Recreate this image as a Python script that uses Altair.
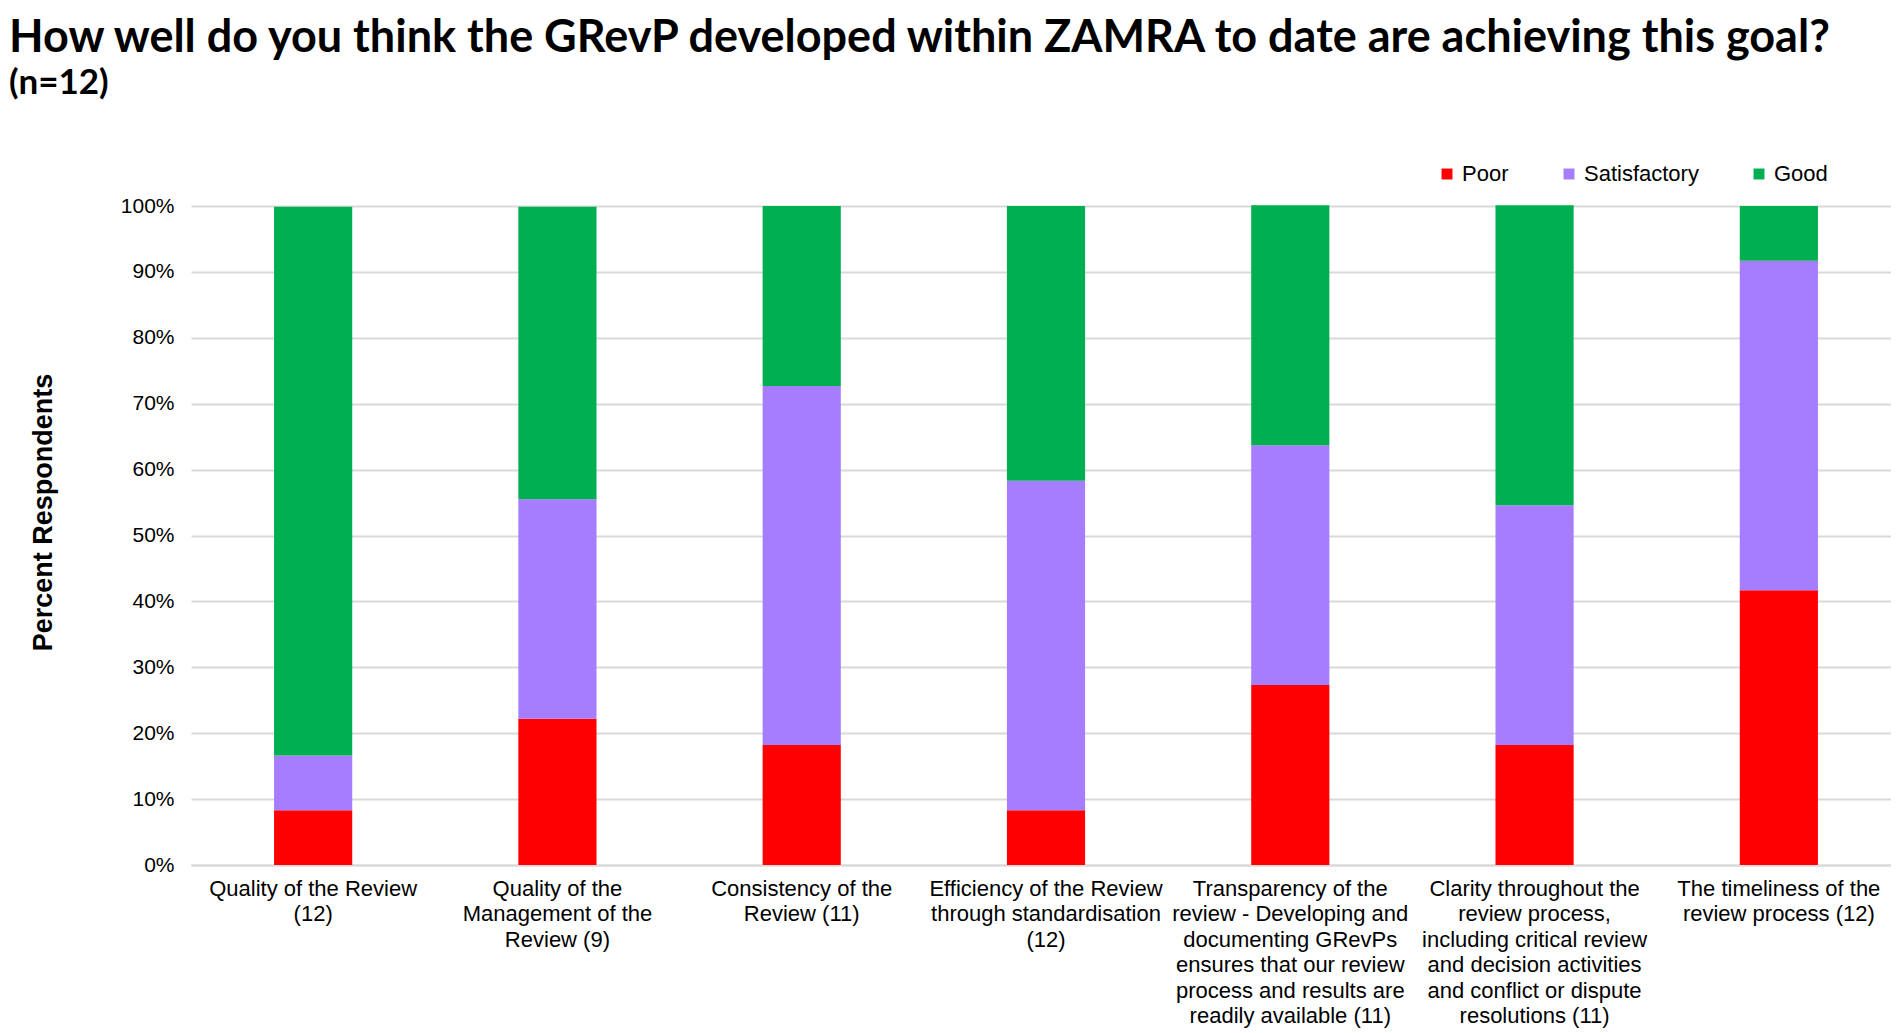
import altair as alt
import pandas as pd

# eixos e séries (percentual de respondentes)
categorias = [
    "Quality of the Review (12)",
    "Quality of the Management of the Review (9)",
    "Consistency of the Review (11)",
    "Efficiency of the Review through standardisation (12)",
    "Transparency of the review (11)",
    "Clarity throughout the review process (11)",
    "The timeliness of the review process (12)",
]
rotulos = [
    ["Quality of the Review", "(12)"],
    ["Quality of the", "Management of the", "Review (9)"],
    ["Consistency of the", "Review (11)"],
    ["Efficiency of the Review", "through standardisation", "(12)"],
    ["Transparency of the", "review - Developing and", "documenting GRevPs",
     "ensures that our review", "process and results are", "readily available  (11)"],
    ["Clarity throughout the", "review process,", "including critical review",
     "and decision activities", "and conflict or dispute", "resolutions (11)"],
    ["The timeliness of the", "review process (12)"],
]
respostas = ["Poor", "Satisfactory", "Good"]
poor = [8.3, 22.2, 18.2, 8.3, 27.3, 18.2, 41.7]
satisfactory = [8.3, 33.3, 54.5, 50.0, 36.4, 36.4, 50.0]
good = [83.3, 44.4, 27.3, 41.7, 36.4, 45.5, 8.3]
cores = ["#ff0000", "#a67dff", "#00b050"]

linhas = []
for i, cat in enumerate(categorias):
    for k, (resp, serie) in enumerate(zip(respostas, [poor, satisfactory, good])):
        linhas.append({"Categoria": cat, "Resposta": resp, "Valor": serie[i], "ordem": k})
df = pd.DataFrame(linhas)

# mapa categoria -> rótulo em várias linhas
mapa = "{" + ",".join(
    '"%s": [%s]' % (c, ",".join('"%s"' % l for l in r)) for c, r in zip(categorias, rotulos)
) + "}"

chart = (
    alt.Chart(df)
    .mark_bar()
    .encode(
        x=alt.X(
            "Categoria:N",
            sort=categorias,
            title=None,
            scale=alt.Scale(range=[0, 1710], paddingInner=0.68, paddingOuter=0.34),
            axis=alt.Axis(
                labelAngle=0,
                labelFont="Liberation Sans",
                labelFontSize=22,
                labelLineHeight=25.5,
                labelColor="#000000",
                labelPadding=13,
                labelLimit=0,
                labelExpr=mapa + "[datum.label]",
                ticks=False,
                domainColor="#d9d9d9",
                domainWidth=2,
            ),
        ),
        y=alt.Y(
            "Valor:Q",
            stack="zero",
            scale=alt.Scale(domain=[0, 100], nice=False),
            title="Percent Respondents",
            axis=alt.Axis(
                values=list(range(0, 101, 10)),
                labelExpr="datum.value + '%'",
                labelFont="Liberation Sans",
                labelFontSize=21,
                labelColor="#000000",
                labelPadding=17,
                ticks=False,
                domain=False,
                gridColor="#d9d9d9",
                gridWidth=2,
                titleFont="Liberation Sans",
                titleFontSize=27,
                titleFontWeight="bold",
                titleColor="#000000",
                titleAngle=-90,
                titleX=-148,
                titleY=306,
                titleAlign="center",
                titleBaseline="middle",
            ),
        ),
        color=alt.Color(
            "Resposta:N",
            sort=respostas,
            scale=alt.Scale(domain=respostas, range=cores),
            legend=alt.Legend(
                title=None,
                orient="none",
                direction="horizontal",
                legendX=1245,
                legendY=-43,
                symbolType="square",
                symbolSize=120,
                symbolStrokeWidth=0,
                labelFont="Liberation Sans",
                labelFontSize=22,
                labelColor="#000000",
                columnPadding=49,
            ),
        ),
        order=alt.Order("ordem:Q"),
    )
    .properties(
        width=1700,
        height=659,
        autosize=alt.AutoSizeParams(type="none"),
        padding={"left": 183, "top": 198, "right": 0, "bottom": 170},
        title=alt.Title(
            text="How well do you think the GRevP developed within ZAMRA to date are achieving this goal?",
            subtitle="(n=12)",
            anchor="start",
            frame="group",
            font="Lato",
            fontSize=45,
            fontWeight="bold",
            color="#000000",
            subtitleFont="Lato",
            subtitleFontSize=35,
            subtitleFontWeight="bold",
            subtitleColor="#000000",
            subtitlePadding=5,
            dx=-182,
            offset=62,
        ),
    )
    .configure_view(stroke=None)
)

chart.save("out.html", embed_options={"renderer": "svg", "actions": False})
